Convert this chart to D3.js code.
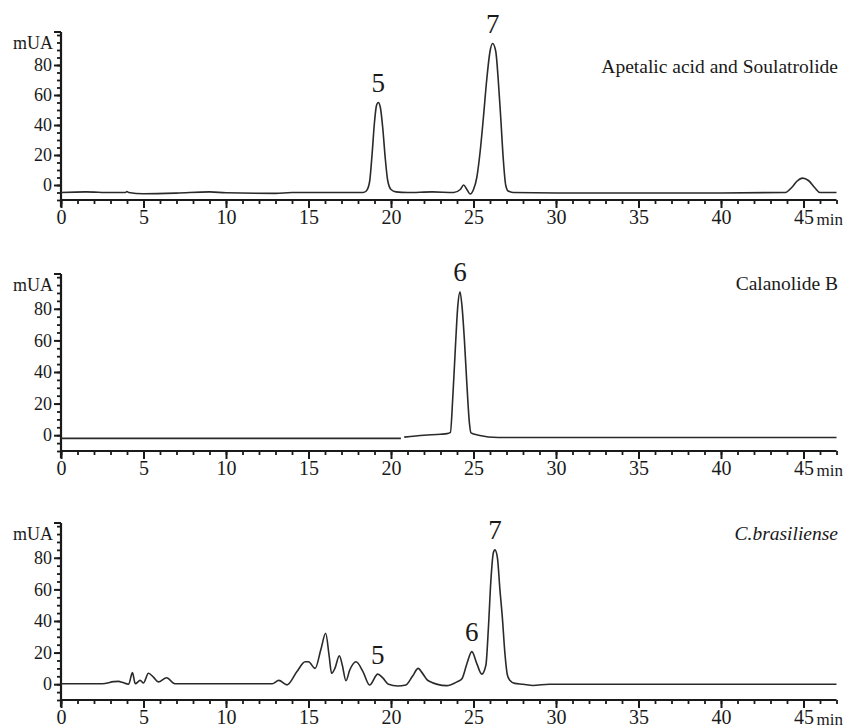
<!DOCTYPE html>
<html>
<head>
<meta charset="utf-8">
<script src="https://cdn.jsdelivr.net/npm/d3@7"></script>
<style>
  body { margin: 0; background: #fff; }
</style>
</head>
<body>
<div id="chart"></div>
<script>
// Retention time (min) vs absorbance (mUA)
const traceStandards = [
  [0, -5], [1.5, -4.6], [3, -5], [3.9, -5], [4, -4.3], [4.1, -5], [5, -5.8], [7, -5.4],
  [9, -4.6], [10, -5.2], [13, -5.6], [14, -5], [18.3, -5], [18.5, -4], [18.7, 2],
  [18.85, 20], [19.0, 42], [19.12, 53], [19.23, 55], [19.35, 52], [19.5, 38], [19.65, 18],
  [19.8, 3], [20.0, -3], [20.3, -4.6], [21, -5], [22.5, -4.6], [23.8, -5], [24.2, -3],
  [24.4, 0], [24.6, -3], [24.8, -6], [25.0, -3], [25.2, 5], [25.4, 22], [25.6, 45],
  [25.8, 70], [26.0, 89], [26.16, 94.3], [26.35, 89], [26.5, 70], [26.65, 45], [26.8, 18],
  [26.95, 0], [27.1, -4], [27.4, -5], [30, -5.3], [40, -5.3], [43.9, -5], [44.3, -1.5],
  [44.6, 2.5], [44.95, 4.6], [45.3, 3], [45.7, -2], [46, -5], [47, -5]
];

const traceCalanolide = [
  [0, -2], [20.6, -2], [20.7, NaN], [20.8, -1.2], [22, 0], [23, 0.6], [23.4, 1.0],
  [23.6, 1.8], [23.75, 25], [23.9, 55], [24.05, 82], [24.18, 90.8], [24.3, 82],
  [24.45, 60], [24.6, 32], [24.75, 8], [24.85, 1.5], [25.3, 0], [26.5, -1.5], [47, -1.5]
];

const traceExtract = [
  [0, 0.3], [2.5, 0.3], [3.2, 1.6], [3.5, 1.8], [3.7, 1.2], [4.1, 0], [4.33, 7.3],
  [4.5, 0.3], [4.8, 2.4], [5.0, 0.8], [5.3, 6.9], [5.6, 4.5], [5.9, 1.5], [6.4, 4.1],
  [6.9, 0.3], [12.8, 0.3], [13.2, 2.4], [13.7, -0.4], [14.3, 8], [14.8, 14.2],
  [15.0, 14.2], [15.4, 10], [15.75, 22], [16.04, 32.2], [16.25, 18], [16.4, 6.9],
  [16.6, 10], [16.87, 18], [17.05, 12], [17.27, 2.2], [17.5, 9], [17.88, 14.2],
  [18.3, 8], [18.7, -0.5], [19.2, 6.4], [19.5, 4], [19.85, 0], [20.4, -1.1], [20.9, -0.5],
  [21.3, 5], [21.65, 10], [21.9, 7], [22.26, 2.2], [23.37, -0.9], [24.0, 1.5], [24.3, 3.5],
  [24.6, 13], [24.9, 20.6], [25.2, 13], [25.5, 6.4], [25.75, 12], [25.9, 35], [26.05, 65],
  [26.2, 83], [26.3, 85], [26.45, 80], [26.6, 60], [26.75, 42], [26.9, 20], [27.05, 6],
  [27.2, 2.5], [27.5, 0.5], [28.0, 0], [28.6, -0.8], [29.6, 0], [47, 0]
];

// peak numbers and their retention times
const peaksStandards = [["5", 19.23], ["7", 26.16]];
const peaksCalanolide = [["6", 24.18]];
const peaksExtract = [["5", 19.2], ["6", 24.9], ["7", 26.3]];

const titles = ["Apetalic acid and Soulatrolide", "Calanolide B", "C.brasiliense"];
const xTicks = [0, 5, 10, 15, 20, 25, 30, 35, 40, 45];
const yTicks = [0, 20, 40, 60, 80];

const serif = "'Liberation Serif', 'Times New Roman', serif";
const ink = "#1a1a1a";

const width = 845, height = 728;
const svg = d3.select("#chart").append("svg")
  .attr("width", width)
  .attr("height", height)
  .style("font-family", serif);

// one chromatogram per panel
const panels = [
  { trace: traceStandards, peaks: peaksStandards, title: titles[0], italic: false, bottom: 200, top: 32, titleY: 66 },
  { trace: traceCalanolide, peaks: peaksCalanolide, title: titles[1], italic: false, bottom: 451, top: 274, titleY: 283 },
  { trace: traceExtract, peaks: peaksExtract, title: titles[2], italic: true, bottom: 700, top: 523, titleY: 533 }
];

const x = d3.scaleLinear().domain([0, 47]).range([61, 836.5]);

panels.forEach(function(p) {
  const y = d3.scaleLinear().domain([-10, 102]).range([p.bottom, p.top]);
  const g = svg.append("g");

  // minor x ticks
  g.append("g")
    .attr("transform", `translate(0,${p.bottom})`)
    .call(d3.axisBottom(x).tickValues(d3.range(0, 48, 1)).tickSize(4).tickSizeOuter(0).tickFormat(""))
    .call(a => a.select(".domain").remove())
    .selectAll("line").attr("stroke", ink).attr("stroke-width", 1.8);

  // major x ticks with labels
  const xa = g.append("g")
    .attr("transform", `translate(0,${p.bottom})`)
    .call(d3.axisBottom(x).tickValues(xTicks).tickSize(8).tickPadding(2).tickSizeOuter(0));
  xa.select(".domain").remove();
  xa.selectAll("line").attr("stroke", ink).attr("stroke-width", 2);
  xa.selectAll("text")
    .style("font-family", serif)
    .style("font-size", "20px")
    .attr("fill", ink);

  g.append("line")
    .attr("x1", x(0)).attr("x2", x(47))
    .attr("y1", p.bottom).attr("y2", p.bottom)
    .attr("stroke", ink).attr("stroke-width", 2);

  g.append("text")
    .attr("x", x(45) + 13)
    .attr("y", p.bottom + 25)
    .style("font-family", serif)
    .style("font-size", "17px")
    .attr("fill", ink)
    .text("min");

  // y axis: minor every 5, major with labels
  g.append("g")
    .attr("transform", `translate(${x(0)},0)`)
    .call(d3.axisLeft(y).tickValues(d3.range(-10, 101, 5)).tickSize(4).tickSizeOuter(0).tickFormat(""))
    .call(a => a.select(".domain").remove())
    .selectAll("line").attr("stroke", ink).attr("stroke-width", 1.8);

  const ya = g.append("g")
    .attr("transform", `translate(${x(0)},0)`)
    .call(d3.axisLeft(y).tickValues(yTicks).tickSize(7).tickPadding(2).tickSizeOuter(0));
  ya.select(".domain").remove();
  ya.selectAll("line").attr("stroke", ink).attr("stroke-width", 2);
  ya.selectAll("text")
    .style("font-family", serif)
    .style("font-size", "18px")
    .attr("fill", ink);

  g.append("line")
    .attr("x1", x(0)).attr("x2", x(0))
    .attr("y1", y(102)).attr("y2", p.bottom + 7)
    .attr("stroke", ink).attr("stroke-width", 2.2);
  g.append("line")
    .attr("x1", x(0) - 7).attr("x2", x(0))
    .attr("y1", y(102)).attr("y2", y(102))
    .attr("stroke", ink).attr("stroke-width", 2);

  g.append("text")
    .attr("x", x(0) - 8)
    .attr("y", y(95))
    .attr("dy", "0.35em")
    .attr("text-anchor", "end")
    .style("font-family", serif)
    .style("font-size", "18px")
    .attr("fill", ink)
    .text("mUA");

  // chromatogram trace
  const line = d3.line()
    .defined(d => !isNaN(d[1]))
    .x(d => x(d[0]))
    .y(d => y(d[1]))
    .curve(d3.curveMonotoneX);

  g.append("path")
    .datum(p.trace)
    .attr("fill", "none")
    .attr("stroke", "#2a2a2a")
    .attr("stroke-width", 1.6)
    .attr("d", line);

  // peak numbers above each peak
  p.peaks.forEach(function(pk) {
    const near = p.trace.filter(d => Math.abs(d[0] - pk[1]) < 0.4 && !isNaN(d[1]));
    const top = d3.max(near, d => d[1]);
    g.append("text")
      .attr("x", x(pk[1]))
      .attr("y", y(top) - 20)
      .attr("dy", "0.35em")
      .attr("text-anchor", "middle")
      .style("font-family", serif)
      .style("font-size", "27px")
      .attr("fill", ink)
      .text(pk[0]);
  });

  g.append("text")
    .attr("x", 838)
    .attr("y", p.titleY)
    .attr("dy", "0.35em")
    .attr("text-anchor", "end")
    .style("font-family", serif)
    .style("font-size", "19.5px")
    .style("font-style", p.italic ? "italic" : "normal")
    .attr("fill", ink)
    .text(p.title);
});
</script>
</body>
</html>
